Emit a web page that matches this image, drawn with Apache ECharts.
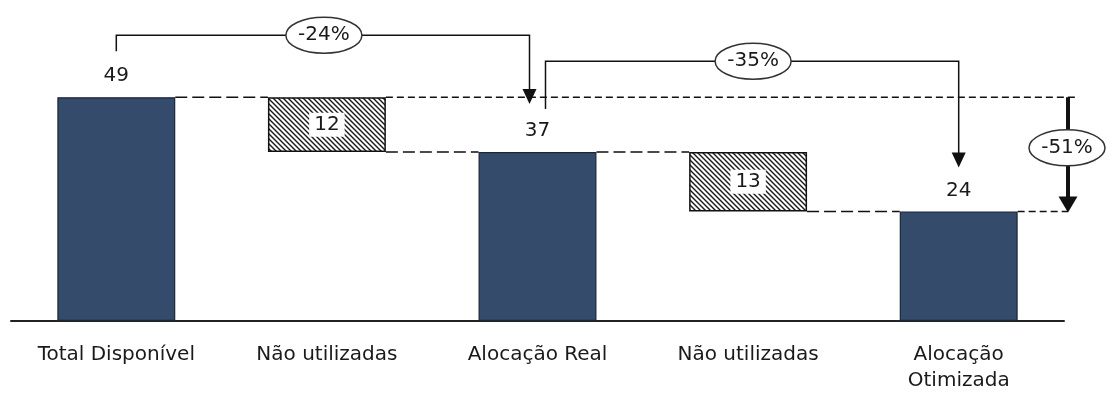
<!DOCTYPE html>
<html>
<head>
<meta charset="utf-8">
<script src="https://cdn.jsdelivr.net/npm/echarts@6/dist/echarts.min.js"></script>
<style>
  html, body { margin: 0; padding: 0; background: #fff; }
  #chart { width: 1108px; height: 394px; }
</style>
</head>
<body>
<div id="chart"></div>
<script>
// Waterfall: available -> unused -> real allocation -> unused -> optimized allocation
const categories = ['Total Disponível', 'Não utilizadas', 'Alocação Real', 'Não utilizadas', 'Alocação\nOtimizada'];
const values = [49, 12, 37, 13, 24];
const isTotal = [true, false, true, false, true];
// percentage comparisons drawn as bracket arrows: [from index, to index]
const comparisons = [[0, 2], [2, 4]];
const overall = [0, 4];

const FONT = 'DejaVu Sans';
const TEXT = '#1a1a1a';

// floating offsets for the reduction bars
const base = [], totalBars = [], deltaBars = [];
let running = 0;
values.forEach((v, i) => {
  if (isTotal[i]) { running = v; base.push(0); totalBars.push(v); deltaBars.push('-'); }
  else { running -= v; base.push(running); totalBars.push('-'); deltaBars.push(v); }
});

// diagonal "\" hatching tile
function hatchPattern() {
  const n = 10, step = 5;
  const c = document.createElement('canvas');
  c.width = n; c.height = n;
  const g = c.getContext('2d');
  g.fillStyle = '#ffffff'; g.fillRect(0, 0, n, n);
  g.strokeStyle = '#1a1a1a';
  g.lineWidth = 1.4;
  for (let o = -n; o <= n; o += step) {
    g.beginPath();
    g.moveTo(o - 1, -1);
    g.lineTo(o + n + 1, n + 1);
    g.stroke();
  }
  return c;
}

const pct = (a, b) => Math.round((b - a) / a * 100) + '%';

const chart = echarts.init(document.getElementById('chart'), null, { renderer: 'canvas' });
const BAR_RATIO = 0.56;

chart.setOption({
  animation: false,
  grid: { left: 11, right: 44, top: 47, bottom: 73 },
  xAxis: {
    type: 'category',
    data: categories,
    axisTick: { show: false },
    axisLine: { lineStyle: { color: '#222', width: 2 } },
    axisLabel: { interval: 0, color: TEXT, fontFamily: FONT, fontSize: 20, lineHeight: 26, margin: 21 }
  },
  yAxis: { type: 'value', min: 0, max: 60, show: false, splitLine: { show: false } },
  series: [
    { type: 'bar', stack: 'w', data: base, barWidth: (BAR_RATIO * 100) + '%', silent: true,
      itemStyle: { color: 'rgba(0,0,0,0)' } },
    { type: 'bar', stack: 'w', data: totalBars, barWidth: (BAR_RATIO * 100) + '%',
      itemStyle: { color: '#354b6b', borderColor: '#1b2636', borderWidth: 1.2 },
      label: { show: true, position: 'top', distance: 11, color: TEXT, fontFamily: FONT, fontSize: 20 } },
    { type: 'bar', stack: 'w', data: deltaBars, barWidth: (BAR_RATIO * 100) + '%',
      itemStyle: { color: { image: hatchPattern(), repeat: 'repeat' }, borderColor: '#111', borderWidth: 1.5 },
      label: { show: true, position: 'inside', color: TEXT, fontFamily: FONT, fontSize: 20,
               backgroundColor: '#fff', padding: [2, 5] } }
  ]
});

// annotation layer: connectors, bracket arrows and percentage badges
const px = (i, v) => chart.convertToPixel({ xAxisIndex: 0, yAxisIndex: 0 }, [i, v]);
const cx = i => px(i, 0)[0];
const cy = v => px(0, v)[1];
const band = cx(1) - cx(0);
const half = band * BAR_RATIO / 2;
const els = [];
const INK = '#111';

function dashed(x1, y, x2, dash) {
  els.push({ type: 'line', z: 50, shape: { x1, y1: y, x2, y2: y },
             style: { stroke: INK, lineWidth: 1.5, lineDash: dash } });
}
function head(x, tipY, w, h) {
  els.push({ type: 'polygon', z: 60, shape: { points: [[x - w / 2, tipY - h], [x + w / 2, tipY - h], [x, tipY]] },
             style: { fill: INK } });
}
function badge(x, y, text) {
  els.push({ type: 'ellipse', z: 70, shape: { cx: x, cy: y, rx: 38, ry: 18 },
             style: { fill: '#fff', stroke: '#333', lineWidth: 1.5 } });
  els.push({ type: 'text', z: 71, x, y,
             style: { text, fill: TEXT, font: '20px ' + FONT, textAlign: 'center', textVerticalAlign: 'middle' } });
}

// connectors between neighbouring bars
for (let i = 0; i < values.length - 1; i++) {
  const level = isTotal[i] ? values[i] : base[i];
  dashed(cx(i) + half, cy(level), cx(i + 1) - half, [12, 5]);
}

// overall change marker on the right
const axisEnd = cx(values.length - 1) + band / 2;
const ax = axisEnd + 4;
const [o0, o1] = overall;
dashed(cx(o0 + 1) + half, cy(values[o0]), ax + 9, [7, 4]);
dashed(cx(o1) + half, cy(values[o1]), ax, [7, 4]);
const yTopO = cy(values[o0]), yBotO = cy(values[o1]) + 1;
els.push({ type: 'line', z: 55, shape: { x1: ax, y1: yTopO, x2: ax, y2: yBotO - 14 },
           style: { stroke: INK, lineWidth: 4 } });
head(ax, yBotO, 19, 16);
badge(ax - 1, (yTopO + yBotO) / 2 - 7, pct(values[o0], values[o1]));

// bracket arrows between totals
const topY = cy(Math.max(...values));
const brackets = [
  { startDx: 0, startUp: 46, lineY: topY - 62, endDx: -8, tipUp: 48 },
  { startDx: 8, startUp: 43, lineY: topY - 36, endDx: 0, tipUp: 44 }
];
comparisons.forEach(([a, b], k) => {
  const s = brackets[k];
  const x1 = cx(a) + s.startDx, y1 = cy(values[a]) - s.startUp;
  const x2 = cx(b) + s.endDx, tip = cy(values[b]) - s.tipUp;
  els.push({ type: 'polyline', z: 55, shape: { points: [[x1, y1], [x1, s.lineY], [x2, s.lineY], [x2, tip - 12]] },
             style: { stroke: INK, lineWidth: 1.5, fill: null } });
  head(x2, tip, 14, 15);
  badge((x1 + x2) / 2 + 1, s.lineY, pct(values[a], values[b]));
});

chart.setOption({ graphic: { elements: els } });
</script>
</body>
</html>
